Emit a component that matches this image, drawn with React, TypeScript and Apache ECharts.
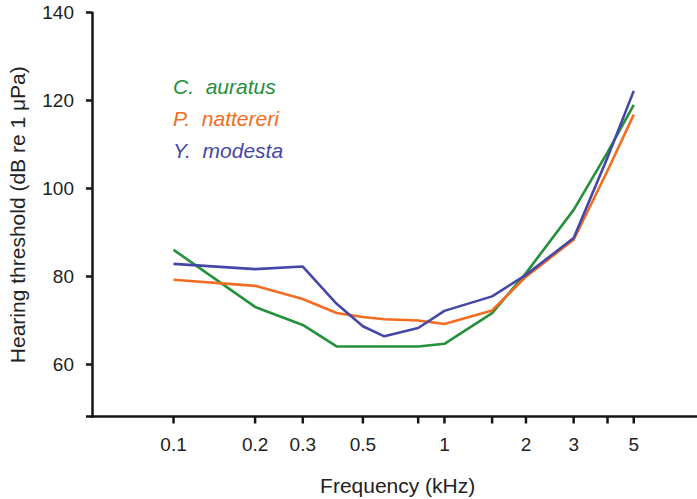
import React, { useEffect, useRef } from 'react';
import * as echarts from 'echarts';

// Frequencies (kHz) at which thresholds were measured
const freqs = [0.1, 0.2, 0.3, 0.4, 0.5, 0.6, 0.8, 1, 1.5, 2, 3, 4, 5];
// Hearing thresholds (dB re 1 µPa)
const auratus = [86.0, 73.0, 68.9, 64.0, 64.0, 64.0, 64.0, 64.6, 71.6, 80.7, 95.1, 108.2, 119.0];
const nattereri = [79.2, 77.8, 74.8, 71.6, 70.7, 70.2, 69.9, 69.1, 72.2, 79.9, 88.3, 104.0, 116.8];
const modesta = [82.8, 81.6, 82.2, 73.7, 68.6, 66.3, 68.2, 72.1, 75.4, 80.3, 88.7, 107.0, 122.2];

const seriesNames = ['C.\u00a0\u00a0auratus', 'P.\u00a0\u00a0nattereri', 'Y.\u00a0\u00a0modesta'];
const seriesColors = ['#25903b', '#f26c22', '#4447a8'];

const xTicks = [0.1, 0.2, 0.3, 0.5, 0.8, 1, 1.5, 2, 3, 4, 5];
const xTickLabels = ['0.1', '0.2', '0.3', '0.5', '', '1', '', '2', '3', '', '5'];

const xMin = 0.05;
const xMax = 10;
const yMin = 48;
const yMax = 140;

const FONT = '"Liberation Sans", Arial, Helvetica, sans-serif';
const AXIS = '#151515';
const TEXT = '#222222';

export default function App() {
  const ref = useRef<HTMLDivElement>(null);

  useEffect(() => {
    document.body.style.margin = '0';
    if (!ref.current) return;
    const chart = echarts.init(ref.current, undefined, { renderer: 'svg' });
    const dataSets = [auratus, nattereri, modesta];

    const lineSeries = dataSets.map((vals, i) => ({
      name: seriesNames[i],
      type: 'line',
      data: freqs.map((f, j) => [f, vals[j]]),
      showSymbol: false,
      symbol: 'none',
      lineStyle: { color: seriesColors[i], width: 2.6 },
      itemStyle: { color: seriesColors[i] },
      z: 3 + i,
    }));

    chart.setOption({
      animation: false,
      grid: {
        left: 92,
        width: 623.3,
        top: 12.7,
        height: 404,
        containLabel: false,
        outerBoundsMode: 'none',
      },
      legend: {
        orient: 'vertical',
        left: 163,
        top: 70.5,
        itemWidth: 0,
        itemHeight: 14,
        itemGap: 11,
        icon: 'none',
        selectedMode: false,
        data: seriesNames.map((n, i) => ({
          name: n,
          textStyle: { color: seriesColors[i] },
        })),
        textStyle: { fontFamily: FONT, fontSize: 21, fontStyle: 'italic' },
      },
      xAxis: {
        type: 'log',
        logBase: 10,
        min: xMin,
        max: xMax,
        axisLine: { show: true, onZero: false, lineStyle: { color: AXIS, width: 2.5 } },
        axisTick: { show: false },
        minorTick: { show: false },
        axisLabel: { show: false },
        splitLine: { show: false },
        name: 'Frequency (kHz)',
        nameLocation: 'middle',
        nameGap: 58,
        nameTextStyle: { fontFamily: FONT, fontSize: 21, color: TEXT, padding: [0, 12, 0, 0] },
      },
      yAxis: {
        type: 'value',
        min: yMin,
        max: yMax,
        splitNumber: 5,
        axisLine: { show: true, lineStyle: { color: AXIS, width: 2.5 } },
        axisTick: { show: true, length: 6, lineStyle: { color: AXIS, width: 2.5 } },
        axisLabel: {
          margin: 18,
          fontFamily: FONT,
          fontSize: 19,
          color: TEXT,
          formatter: (v: number) => (v === yMin ? '' : String(v)),
        },
        splitLine: { show: false },
        name: 'Hearing threshold (dB re 1 \u03bcPa)',
        nameLocation: 'middle',
        nameGap: 64,
        nameTextStyle: { fontFamily: FONT, fontSize: 21, color: TEXT },
      },
      series: [
        ...lineSeries,
        {
          type: 'custom',
          silent: true,
          clip: false,
          z: 10,
          data: xTicks.map((t) => [t, yMin]),
          encode: { x: 0, y: 1 },
          renderItem: (params: any, api: any) => {
            const pt = api.coord([api.value(0), api.value(1)]);
            return {
              type: 'group',
              children: [
                {
                  type: 'rect',
                  shape: { x: pt[0] - 1.25, y: pt[1], width: 2.5, height: 6.8 },
                  style: { fill: AXIS },
                  z2: 20,
                },
                {
                  type: 'text',
                  x: pt[0],
                  y: pt[1] + 27.5,
                  style: {
                    text: xTickLabels[params.dataIndex],
                    fontFamily: FONT,
                    fontSize: 19,
                    fill: TEXT,
                    align: 'center',
                    verticalAlign: 'middle',
                  },
                },
              ],
            };
          },
        },
      ],
    });

    return () => chart.dispose();
  }, []);

  return <div ref={ref} style={{ width: 697, height: 499 }} />;
}
